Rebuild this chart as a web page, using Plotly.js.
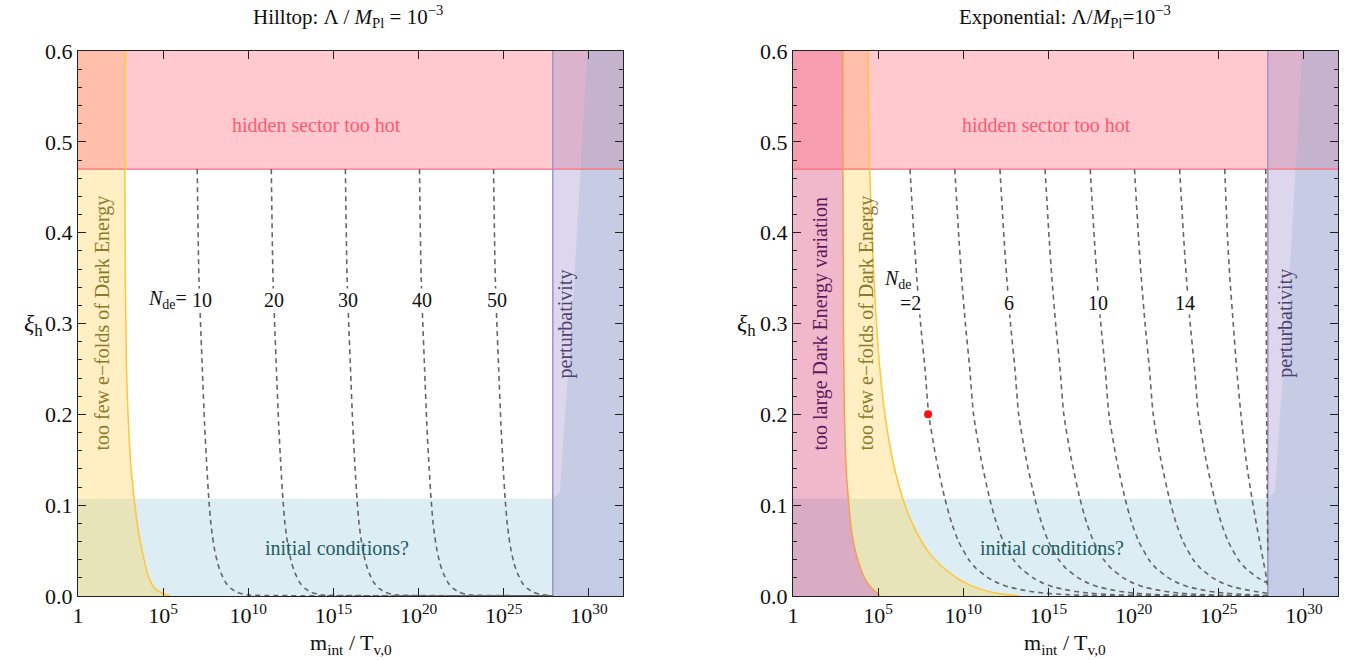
<!DOCTYPE html>
<html>
<head>
<meta charset="utf-8">
<script src="https://cdn.plot.ly/plotly-3.0.1.min.js"></script>
<style>html,body{margin:0;padding:0;background:#fff}#chart{width:1347px;height:660px}</style>
</head>
<body>
<div id="chart"></div>
<script>
// ---------- data (x values are log10(m_int / T_v,0)) ----------
const xTickExp = [0, 5, 10, 15, 20, 25, 30];
const xTickText = ['1', '10<sup>5</sup>', '10<sup>10</sup>', '10<sup>15</sup>', '10<sup>20</sup>', '10<sup>25</sup>', '10<sup>30</sup>'];
const xRangeExp = [0, 32];
const yRange = [0, 0.6];

const hotXi = 0.47;          // hidden sector too hot above
const initXi = 0.107;        // initial conditions? below
const pertExp = 27.88;       // perturbativity to the right

// perturbativity inner (darker) region boundary
const pertSlantExp = [27.9, 28.3, 28.6, 29.0, 29.45, 29.9];
const pertSlantXi  = [0.107, 0.115, 0.2, 0.3, 0.45, 0.6];

// Hilltop: "too few e-folds" boundary
const hillEfoldXi  = [0.6, 0.47, 0.35, 0.25, 0.194, 0.14, 0.107, 0.07, 0.047, 0.03, 0.018, 0.01, 0.005, 0.002, 0];
const hillEfoldExp = [2.75, 2.75, 2.78, 2.85, 2.95, 3.12, 3.3, 3.55, 3.8, 4.0, 4.2, 4.45, 4.75, 5.1, 5.4];

// Hilltop N_de contours
const hillXi   = [0.47, 0.35, 0.25, 0.19, 0.14, 0.107, 0.08, 0.065, 0.05, 0.036, 0.025, 0.014, 0.008, 0.004, 0.002, 0.001, 0.0002];
const hillN10  = [7.0, 7.1, 7.3, 7.43, 7.57, 7.68, 7.8, 7.9, 8.03, 8.2, 8.4, 8.7, 9.0, 9.35, 9.7, 10.05, 27.88];
const hillN20  = [11.35, 11.45, 11.65, 11.78, 11.92, 12.03, 12.15, 12.25, 12.38, 12.55, 12.75, 13.05, 13.35, 13.7, 14.05, 14.4, 27.88];
const hillN30  = [15.7, 15.8, 16.0, 16.13, 16.27, 16.38, 16.5, 16.6, 16.73, 16.9, 17.1, 17.4, 17.7, 18.05, 18.4, 18.75, 27.88];
const hillN40  = [20.05, 20.15, 20.35, 20.48, 20.62, 20.73, 20.85, 20.95, 21.08, 21.25, 21.45, 21.75, 22.05, 22.4, 22.75, 23.1, 27.88];
const hillN50  = [24.4, 24.5, 24.7, 24.83, 24.97, 25.08, 25.2, 25.3, 25.43, 25.6, 25.8, 26.1, 26.4, 26.75, 27.1, 27.45, 27.88];
const hillLabels = ['10', '20', '30', '40', '50'];
const hillLabelExp = [7.26, 11.5, 15.87, 20.2, 24.6];

// Exponential: "too large Dark Energy variation" boundary
const expVarXi  = [0.6, 0.47, 0.3, 0.2, 0.14, 0.107, 0.07, 0.04, 0.02, 0.01, 0.004, 0];
const expVarExp = [2.92, 2.93, 2.96, 3.02, 3.12, 3.25, 3.45, 3.8, 4.2, 4.55, 4.9, 5.1];
// Exponential: "too few e-folds" boundary
const expEfoldXi  = [0.6, 0.47, 0.35, 0.25, 0.2, 0.15, 0.107, 0.08, 0.06, 0.045, 0.03, 0.02, 0.012, 0.007, 0.003, 0.001, 0];
const expEfoldExp = [4.4, 4.5, 4.75, 5.1, 5.4, 5.85, 6.45, 7.0, 7.55, 8.1, 8.9, 9.6, 10.4, 11.1, 12.0, 12.8, 13.3];

// Exponential N_de contours
const expXi = [0.47, 0.4, 0.35, 0.3, 0.25, 0.2, 0.15, 0.107, 0.08, 0.06, 0.04, 0.03, 0.02, 0.014, 0.01, 0.007, 0.005, 0.003, 0.0015, 0.0007, 0.0001];
const expN2  = [6.87, 7.09, 7.27, 7.49, 7.75, 7.97, 8.42, 8.92, 9.32, 9.72, 10.32, 10.77, 11.47, 12.07, 12.67, 13.37, 13.97, 14.87, 16.07, 17.37, 27.88];
const expN4  = [9.5, 9.72, 9.9, 10.12, 10.38, 10.6, 11.05, 11.55, 11.95, 12.35, 12.95, 13.4, 14.1, 14.7, 15.3, 16.0, 16.6, 17.5, 18.7, 20.0, 27.88];
const expN6  = [12.15, 12.37, 12.55, 12.77, 13.03, 13.25, 13.7, 14.2, 14.6, 15.0, 15.6, 16.05, 16.75, 17.35, 17.95, 18.65, 19.25, 20.15, 21.35, 22.65, 27.88];
const expN8  = [14.8, 15.02, 15.2, 15.42, 15.68, 15.9, 16.35, 16.85, 17.25, 17.65, 18.25, 18.7, 19.4, 20.0, 20.6, 21.3, 21.9, 22.8, 24.0, 25.3, 27.88];
const expN10 = [17.45, 17.67, 17.85, 18.07, 18.33, 18.55, 19.0, 19.5, 19.9, 20.3, 20.9, 21.35, 22.05, 22.65, 23.25, 23.95, 24.55, 25.45, 26.65, 27.88];
const expN12 = [20.05, 20.27, 20.45, 20.67, 20.93, 21.15, 21.6, 22.1, 22.5, 22.9, 23.5, 23.95, 24.65, 25.25, 25.85, 26.55, 27.15, 27.88];
const expN14 = [22.7, 22.92, 23.1, 23.32, 23.58, 23.8, 24.25, 24.75, 25.15, 25.55, 26.15, 26.6, 27.3, 27.88];
const expN16Xi  = [0.47, 0.4, 0.35, 0.3, 0.25, 0.2, 0.15, 0.107, 0.08, 0.06, 0.04, 0.02, 0.008];
const expN16    = [25.35, 25.5, 25.65, 25.85, 26.05, 26.3, 26.6, 26.95, 27.2, 27.4, 27.6, 27.8, 27.88];
const expN18Xi  = [0.47, 0.35, 0.2, 0.1, 0.05];
const expN18    = [27.76, 27.78, 27.81, 27.85, 27.88];
const expLabels = ['=2', '6', '10', '14'];
const expLabelExp = [6.87, 12.7, 17.9, 23.0];

const redDot = {exp: 7.93, xi: 0.2};

// ---------- drawing ----------
const p10 = v => Math.pow(10, v);
const FONT = 'Liberation Serif';

function area(xe, y, color, ax) {
  return {type: 'scatter', mode: 'lines', x: xe.map(p10), y: y, fill: 'toself', fillcolor: color,
          line: {width: 0, color: 'rgba(0,0,0,0)'}, hoverinfo: 'skip', showlegend: false, xaxis: ax[0], yaxis: ax[1]};
}
function curve(xe, y, color, width, dash, ax, shape) {
  return {type: 'scatter', mode: 'lines', x: xe.map(p10), y: y,
          line: {color: color, width: width, dash: dash || 'solid', shape: shape || 'spline', smoothing: 0.6},
          hoverinfo: 'skip', showlegend: false, xaxis: ax[0], yaxis: ax[1]};
}

const C = {
  blue: 'rgba(140,200,215,0.30)',
  yellow: 'rgba(255,210,80,0.35)',
  pink: 'rgba(255,120,135,0.40)',
  lav: 'rgba(150,135,200,0.33)',
  slant: 'rgba(140,175,200,0.28)',
  magenta: 'rgba(215,50,105,0.35)',
  hotLine: '#ff6d7d',
  pertLine: '#9d93c9',
  efoldLine: '#ffc53d',
  varLine: '#f4a04c',
  dash: '#666666'
};

const traces = [];
function commonRegions(ax) {
  const [x0, x1] = xRangeExp;
  traces.push(area([x0, x1, x1, x0], [0, 0, initXi, initXi], C.blue, ax));
}
function topRegions(ax) {
  const [x0, x1] = xRangeExp;
  traces.push(area([x0, x1, x1, x0], [hotXi, hotXi, 0.6, 0.6], C.pink, ax));
  traces.push(area([pertExp, x1, x1, pertExp], [0, 0, 0.6, 0.6], C.lav, ax));
  traces.push(area(pertSlantExp.concat([x1, x1]), pertSlantXi.concat([0.6, initXi]), C.slant, ax));
  traces.push(curve([x0, x1], [hotXi, hotXi], C.hotLine, 1.2, 'solid', ax, 'linear'));
  traces.push(curve([pertExp, pertExp], [0, 0.6], C.pertLine, 1.5, 'solid', ax, 'linear'));
}

// Left: Hilltop
const A1 = ['x', 'y'];
commonRegions(A1);
traces.push(area([0].concat(hillEfoldExp, [0]), [0.6].concat(hillEfoldXi, [0]), C.yellow, A1));
topRegions(A1);
traces.push(curve(hillEfoldExp, hillEfoldXi, C.efoldLine, 1.5, 'solid', A1));
[hillN10, hillN20, hillN30, hillN40, hillN50].forEach(arr => traces.push(curve(arr, hillXi, C.dash, 1.6, '5px,4px', A1)));

// Right: Exponential
const A2 = ['x2', 'y2'];
commonRegions(A2);
traces.push(area([0].concat(expVarExp, [0]), [0.6].concat(expVarXi, [0]), C.magenta, A2));
traces.push(area(expVarExp.concat(expEfoldExp.slice().reverse()), expVarXi.concat(expEfoldXi.slice().reverse()), C.yellow, A2));
topRegions(A2);
traces.push(curve(expVarExp, expVarXi, C.varLine, 1.5, 'solid', A2));
traces.push(curve(expEfoldExp, expEfoldXi, C.efoldLine, 1.5, 'solid', A2));
[expN2, expN4, expN6, expN8, expN10, expN12, expN14].forEach(arr =>
  traces.push(curve(arr, expXi.slice(0, arr.length), C.dash, 1.6, '5px,4px', A2)));
traces.push(curve(expN16, expN16Xi, C.dash, 1.6, '5px,4px', A2));
traces.push(curve(expN18, expN18Xi, C.dash, 1.6, '5px,4px', A2));
traces.push({type: 'scatter', mode: 'markers', x: [p10(redDot.exp)], y: [redDot.xi], marker: {color: '#ff1010', size: 8},
             hoverinfo: 'skip', showlegend: false, xaxis: 'x2', yaxis: 'y2'});

// ---------- axes ----------
function xAxis(domain, anchor) {
  return {type: 'log', range: xRangeExp, domain: domain, anchor: anchor,
          tickmode: 'array', tickvals: xTickExp.map(p10), ticktext: xTickText,
          ticks: 'inside', ticklen: 8, tickwidth: 1, tickcolor: '#222',
          showline: true, linecolor: '#222', linewidth: 1, mirror: 'ticks',
          showgrid: false, zeroline: false,
          tickfont: {family: FONT, size: 22, color: '#111'}};
}
function yAxis(anchor) {
  return {range: yRange, domain: [0, 1], anchor: anchor, tick0: 0, dtick: 0.1, tickformat: '.1f',
          ticks: 'inside', ticklen: 8, tickwidth: 1, tickcolor: '#222',
          minor: {dtick: 0.02, ticks: 'inside', ticklen: 4, tickwidth: 1, tickcolor: '#222', showgrid: false},
          showline: true, linecolor: '#222', linewidth: 1, mirror: 'ticks',
          showgrid: false, zeroline: false,
          tickfont: {family: FONT, size: 22, color: '#111'}};
}

// ---------- annotations ----------
const ann = [];
function txt(text, x, y, xref, yref, opts) {
  ann.push(Object.assign({text: text, x: x, y: y, xref: xref, yref: yref, showarrow: false,
    xanchor: 'center', yanchor: 'middle',
    font: {family: FONT, size: 20, color: '#111'}}, opts || {}));
}
const big = {family: FONT, size: 21, color: '#111'};
// titles
txt('Hilltop: Λ / <i>M</i><sub>Pl</sub> = 10<sup>−3</sup>', 0.2587, 1.064, 'paper', 'paper', {font: big});
txt('Exponential: Λ/<i>M</i><sub>Pl</sub>=10<sup>−3</sup>', 0.791, 1.064, 'paper', 'paper', {font: big});
// axis titles
txt('m<sub>int</sub> / T<sub>v,0</sub>', 0.2605, -0.088, 'paper', 'paper', {font: {family: FONT, size: 22, color: '#111'}});
txt('m<sub>int</sub> / T<sub>v,0</sub>', 0.791, -0.088, 'paper', 'paper', {font: {family: FONT, size: 22, color: '#111'}});
txt('<i>ξ</i><sub>h</sub>', 0.0245, 0.497, 'paper', 'paper', {font: {family: FONT, size: 24, color: '#111'}});
txt('<i>ξ</i><sub>h</sub>', 0.5545, 0.497, 'paper', 'paper', {font: {family: FONT, size: 24, color: '#111'}});

const cHot = '#ff5a6e', cEfold = '#8c7a2c', cInit = '#1e5c64', cPert = '#4e4272', cVar = '#5b1a5e';
[['x', 'y', 14.0], ['x2', 'y2', 14.9]].forEach(([xr, yr, hx]) => {
  txt('hidden sector too hot', hx, 0.519, xr, yr, {font: {family: FONT, size: 20, color: cHot}});
  txt('initial conditions?', 15.2, 0.053, xr, yr, {font: {family: FONT, size: 20, color: cInit}});
});
txt('too few e−folds of Dark Energy', 1.41, 0.3, 'x', 'y', {textangle: -90, font: {family: FONT, size: 20, color: cEfold}});
txt('perturbativity', 28.65, 0.3, 'x', 'y', {textangle: -90, font: {family: FONT, size: 20, color: cPert}});
txt('too large Dark Energy variation', 1.59, 0.3, 'x2', 'y2', {textangle: -90, font: {family: FONT, size: 20, color: cVar}});
txt('too few e−folds of Dark Energy', 4.29, 0.3, 'x2', 'y2', {textangle: -90, font: {family: FONT, size: 20, color: cEfold}});
txt('perturbativity', 28.9, 0.3, 'x2', 'y2', {textangle: -90, font: {family: FONT, size: 20, color: cPert}});

// N_de labels
txt('<i>N</i><sub>de</sub>=', 6.45, 0.326, 'x', 'y', {xanchor: 'right', bgcolor: '#fff', borderpad: 0});
hillLabels.forEach((t, i) => txt(t, hillLabelExp[i], 0.326, 'x', 'y', {bgcolor: '#fff', borderpad: 0}));
txt('<i>N</i><sub>de</sub>', 6.17, 0.348, 'x2', 'y2', {bgcolor: '#fff', borderpad: 0});
expLabels.forEach((t, i) => txt(t, expLabelExp[i], 0.3226, 'x2', 'y2', {bgcolor: '#fff', borderpad: 0}));

const layout = {
  width: 1347, height: 660,
  margin: {l: 0, r: 0, t: 51, b: 64},
  paper_bgcolor: '#fff', plot_bgcolor: '#fff',
  showlegend: false,
  font: {family: FONT, color: '#111'},
  xaxis: xAxis([78 / 1347, 623 / 1347], 'y'),
  yaxis: yAxis('x'),
  xaxis2: xAxis([793 / 1347, 1338 / 1347], 'y2'),
  yaxis2: yAxis('x2'),
  annotations: ann
};

Plotly.newPlot('chart', traces, layout, {staticPlot: true, displayModeBar: false});
</script>
</body>
</html>
